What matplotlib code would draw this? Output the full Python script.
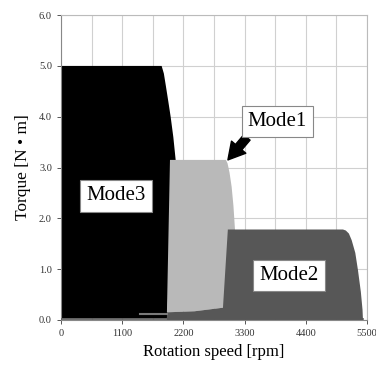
import matplotlib.pyplot as plt

# Operating-region boundaries (speed in rpm, torque in N*m)
mode3_speed = [0, 0, 1810, 1850, 1887, 1930, 1972, 2020, 2062, 1905]
mode3_torque = [0.03, 5.0, 5.0, 4.85, 4.6, 4.3, 4.0, 3.6, 3.15, 0.03]

mode1_speed = [1905, 1960, 2966, 2995, 3030, 3068, 3100, 3128, 3128, 2912, 2400]
mode1_torque = [0.15, 3.15, 3.15, 3.08, 2.9, 2.62, 2.25, 1.78, 0.30, 0.24, 0.17]

mode2_speed = [1905, 1905, 2400, 2912, 3000, 5069, 5120, 5175, 5225, 5290, 5338, 5390, 5420, 5428]
mode2_torque = [0.0, 0.15, 0.17, 0.24, 1.78, 1.78, 1.76, 1.70, 1.57, 1.32, 0.98, 0.55, 0.2, 0.0]

stray_speed = [1420, 1905]
stray_torque = [0.12, 0.12]

base_speed = [0, 5428]
base_torque = [0.02, 0.02]

xticks = [0, 1100, 2200, 3300, 4400, 5500]
yticks = [0.0, 1.0, 2.0, 3.0, 4.0, 5.0, 6.0]

plt.rcParams['font.family'] = ['Liberation Serif', 'DejaVu Serif']

fig = plt.figure(figsize=(3.76, 3.69), dpi=100)
ax = fig.add_axes([0.162, 0.133, 0.814, 0.826])

# grid every 550 rpm and every 1.0 N*m
for x in range(0, 5501, 550):
    ax.axvline(x, color='#d0d0d0', lw=0.8, zorder=0)
for y in yticks:
    ax.axhline(y, color='#d0d0d0', lw=0.8, zorder=0)

ax.fill(mode3_speed, mode3_torque, color='black', lw=0, zorder=2)
ax.fill(mode1_speed, mode1_torque, color='#b9b9b9', lw=0, zorder=3)
ax.fill(mode2_speed, mode2_torque, color='#575757', lw=0, zorder=4)
ax.plot(base_speed, base_torque, color='#575757', lw=1.2, zorder=4)
ax.plot(stray_speed, stray_torque, color='#7a7a7a', lw=1.5, zorder=4)

ax.set_xlim(0, 5500)
ax.set_ylim(0, 6.0)
ax.set_xticks(xticks)
ax.set_xticklabels([str(v) for v in xticks])
ax.set_yticks(yticks)
ax.set_yticklabels(['%.1f' % v for v in yticks])
ax.tick_params(labelsize=7.5, colors='#555555', length=3, width=0.7, labelcolor='#333333')
for s in ax.spines.values():
    s.set_color('#bbbbbb')
    s.set_linewidth(0.8)
ax.spines['bottom'].set_color('#888888')
ax.spines['left'].set_color('#888888')

ax.set_xlabel('Rotation speed [rpm]', fontsize=12, labelpad=4)
ax.set_ylabel('Torque [N \u2022 m]', fontsize=12.5, labelpad=6)

box = dict(boxstyle='square,pad=0.3', fc='white', ec='#888888', lw=0.8)
ax.text(988, 2.44, 'Mode3', fontsize=15, ha='center', va='center', bbox=box, zorder=6)
ax.text(4097, 0.87, 'Mode2', fontsize=15, ha='center', va='center', bbox=box, zorder=6)
ax.annotate('Mode1', xy=(3001, 3.15), xytext=(3890, 3.91), fontsize=15,
            ha='center', va='center', bbox=box, zorder=6,
            arrowprops=dict(arrowstyle='simple,head_width=0.9,head_length=0.8,tail_width=0.4',
                            fc='black', ec='black', shrinkA=0, shrinkB=0,
                            relpos=(0.08, 0.0)))

fig.savefig('out.png', dpi=100)
